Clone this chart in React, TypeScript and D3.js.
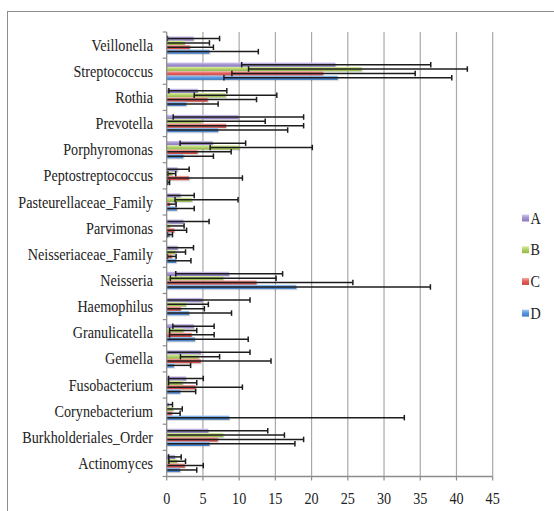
import React from 'react';
import * as d3 from 'd3';

// categories, top to bottom as drawn
const categories = [
  'Veillonella', 'Streptococcus', 'Rothia', 'Prevotella', 'Porphyromonas',
  'Peptostreptococcus', 'Pasteurellaceae_Family', 'Parvimonas', 'Neisseriaceae_Family',
  'Neisseria', 'Haemophilus', 'Granulicatella', 'Gemella', 'Fusobacterium',
  'Corynebacterium', 'Burkholderiales_Order', 'Actinomyces',
];
const seriesNames = ['A', 'B', 'C', 'D'];

// bar values
const valuesA = [3.7, 23.3, 4.3, 9.9, 6.35, 1.5, 1.9, 2.3, 1.5, 8.6, 4.9, 3.75, 4.7, 2.65, 0.3, 5.75, 1.15];
const valuesB = [2.5, 26.9, 8.15, 4.8, 10.0, 0.7, 3.45, 0.4, 1.15, 7.8, 2.65, 2.3, 4.4, 2.2, 0.9, 7.8, 1.45];
const valuesC = [3.2, 21.6, 5.65, 8.2, 4.25, 3.1, 0.45, 1.05, 0.7, 12.4, 1.95, 3.45, 4.7, 4.0, 0.7, 7.05, 2.5];
const valuesD = [5.9, 23.6, 2.7, 7.1, 2.3, 0.25, 1.4, 0.45, 1.3, 17.9, 3.1, 3.9, 1.0, 1.85, 8.65, 5.9, 1.85];

// error bar ends (low, high)
const lowA = [0.1, 10.35, 0.3, 0.9, 1.85, -0.1, -0.05, -1.2, -0.7, 1.25, -1.7, 0.85, -2.1, 0.25, -0.2, -2.45, 0.25];
const highA = [7.3, 36.45, 8.3, 18.9, 10.9, 3.1, 3.8, 5.85, 3.7, 16.0, 11.5, 6.55, 11.5, 5.05, 0.8, 13.95, 2.0];
const lowB = [-0.9, 11.3, 3.8, -4.0, 6.0, 0.15, 1.15, -1.6, -0.3, 0.5, -0.45, 0.4, 1.9, 0.25, -0.35, -0.6, 0.3];
const highB = [5.9, 41.5, 15.2, 13.6, 20.1, 1.25, 9.85, 2.4, 2.6, 15.1, 5.75, 4.15, 7.3, 4.15, 2.15, 16.25, 2.6];
const lowC = [-0.1, 9.0, -1.1, -2.5, -0.4, -4.3, -0.4, -0.7, 0.1, -0.9, -1.3, 0.4, -5.0, -2.45, -0.45, -4.8, -0.05];
const highC = [6.45, 34.3, 12.4, 18.9, 8.9, 10.45, 1.3, 2.75, 1.3, 25.7, 5.2, 6.55, 14.4, 10.45, 1.85, 18.9, 5.05];
const lowD = [-0.85, 7.9, -1.7, -2.5, -1.8, 0.1, -1.0, 0.1, -0.8, -0.6, -2.8, -3.5, -1.3, -0.3, -15.5, -5.9, -0.45];
const highD = [12.65, 39.35, 7.1, 16.7, 6.45, 0.4, 3.8, 0.8, 3.35, 36.4, 8.95, 11.25, 3.3, 4.0, 32.8, 17.7, 4.15];

const xTicks = [0, 5, 10, 15, 20, 25, 30, 35, 40, 45];

const seriesColors = [
  { light: '#d4c9ee', base: '#a596d2', dark: '#8a78c0' },
  { light: '#dcefa6', base: '#b3d36a', dark: '#93b548' },
  { light: '#f6b0ad', base: '#e4615d', dark: '#c9443f' },
  { light: '#a9cdf3', base: '#5d9ae0', dark: '#3e78c2' },
];

const W = 554;
const H = 511;
const textStyle = { fontFamily: '"Liberation Serif", "Times New Roman", serif' };
const SX = 0.86;
const FS = 16.5;

export default function App() {
  const x = d3.scaleLinear().domain([0, 45]).range([166.7, 492.7]);
  const y = d3.scaleBand<string>().domain(categories).range([32, 476.5]);
  const ys = d3.scaleBand<string>().domain(seriesNames).range([0, y.bandwidth()])
    .paddingInner(0).paddingOuter(1);

  const series = [
    { name: 'A', values: valuesA, low: lowA, high: highA },
    { name: 'B', values: valuesB, low: lowB, high: highB },
    { name: 'C', values: valuesC, low: lowC, high: highC },
    { name: 'D', values: valuesD, low: lowD, high: highD },
  ];

  const bh = ys.bandwidth();
  const capH = 5.5;
  const yTop = y.range()[0];
  const yBot = y.range()[1];
  const bandEdges = d3.range(categories.length + 1).map(i => yTop + i * y.step());

  return (
    <svg width={W} height={H} style={{ position: 'absolute', left: 0, top: 0, background: '#fff' }}>
      <defs>
        {seriesColors.map((c, i) => (
          <linearGradient key={i} id={`grad${i}`} x1="0" y1="0" x2="0" y2="1">
            <stop offset="0%" stopColor={c.light} />
            <stop offset="45%" stopColor={c.base} />
            <stop offset="100%" stopColor={c.dark} />
          </linearGradient>
        ))}
      </defs>

      <rect x={7.5} y={11.5} width={700} height={700} fill="#fff" stroke="#8c8c8c" strokeWidth={1} />

      {/* gridlines */}
      {xTicks.slice(1).map(t => (
        <line key={t} x1={x(t)} x2={x(t)} y1={yTop} y2={yBot} stroke="#a8a8a8" strokeWidth={1.2} />
      ))}

      {/* bars */}
      {series.map((s, si) =>
        categories.map((cat, ci) => {
          const by = (y(cat) as number) + (ys(s.name) as number);
          return (
            <g key={`${s.name}-${cat}`}>
              <rect x={x(0)} y={by + 1.2} width={x(s.values[ci]) - x(0) + 1.2} height={bh}
                fill="#000" opacity={0.12} />
              <rect x={x(0)} y={by} width={x(s.values[ci]) - x(0)} height={bh} fill={`url(#grad${si})`} />
            </g>
          );
        })
      )}

      {/* error bars */}
      {series.map(s =>
        categories.map((cat, ci) => {
          const cy = (y(cat) as number) + (ys(s.name) as number) + bh / 2;
          const lo = s.low[ci];
          const hi = s.high[ci];
          const x0 = x(Math.max(lo, 0));
          const x1 = x(hi);
          return (
            <g key={`e-${s.name}-${cat}`} stroke="#1c1c1c" strokeWidth={1.5}>
              <line x1={x0} x2={x1} y1={cy} y2={cy} />
              {lo > 0 && <line x1={x0} x2={x0} y1={cy - capH / 2} y2={cy + capH / 2} />}
              <line x1={x1} x2={x1} y1={cy - capH / 2} y2={cy + capH / 2} />
            </g>
          );
        })
      )}

      {/* axes */}
      <line x1={x(0)} x2={x(0)} y1={yTop} y2={yBot} stroke="#8c8c8c" strokeWidth={1.3} />
      <line x1={x(0)} x2={x(45)} y1={yBot} y2={yBot} stroke="#8c8c8c" strokeWidth={1.3} />
      {bandEdges.map((e, i) => (
        <line key={i} x1={x(0) - 4} x2={x(0)} y1={e} y2={e} stroke="#8c8c8c" strokeWidth={1.2} />
      ))}
      {xTicks.map(t => (
        <line key={t} x1={x(t)} x2={x(t)} y1={yBot} y2={yBot + 4} stroke="#8c8c8c" strokeWidth={1.2} />
      ))}

      {/* category labels */}
      {categories.map(cat => (
        <text key={cat} transform={`translate(153,${(y(cat) as number) + y.bandwidth() / 2 + 5.6}) scale(${SX},1)`}
          textAnchor="end" style={textStyle} fontSize={FS} fill="#222">{cat}</text>
      ))}

      {/* x tick labels */}
      {xTicks.map(t => (
        <text key={t} transform={`translate(${x(t)},504) scale(${SX},1)`} textAnchor="middle"
          style={textStyle} fontSize={FS} fill="#222">{t}</text>
      ))}

      {/* legend */}
      {seriesNames.map((n, i) => {
        const ly = 218 + i * 31.7;
        return (
          <g key={n}>
            <rect x={522} y={ly - 3.5} width={7} height={7} fill={`url(#grad${i})`} />
            <text transform={`translate(530.5,${ly + 5.5}) scale(${SX},1)`} style={textStyle}
              fontSize={FS} fill="#222">{n}</text>
          </g>
        );
      })}
    </svg>
  );
}
